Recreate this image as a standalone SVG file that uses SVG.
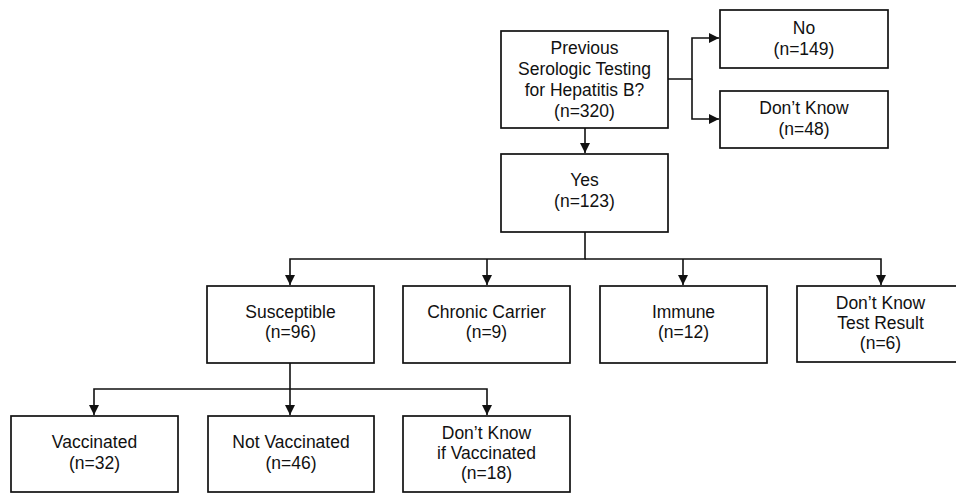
<svg xmlns="http://www.w3.org/2000/svg" width="956" height="493" viewBox="0 0 956 493">
<defs>
<marker id="ah" viewBox="0 0 10 10" refX="10" refY="5" markerWidth="11" markerHeight="10" markerUnits="userSpaceOnUse" orient="auto">
<path d="M0,0 L10,5 L0,10 Z" fill="#111"/>
</marker>
</defs>
<style>
rect{fill:#fff;stroke:#111;stroke-width:1.7}
text{font-family:"Liberation Sans",Arial,sans-serif;font-size:17.5px;fill:#111;text-anchor:middle}
.c{fill:none;stroke:#111;stroke-width:1.6}
</style>
<rect x="0" y="0" width="956" height="493" style="stroke:none"/>
<g id="connectors">
<path class="c" d="M668,79 H692 V38 H719" marker-end="url(#ah)"/>
<path class="c" d="M692,79 V119 H719" marker-end="url(#ah)"/>
<path class="c" d="M585,128 V153" marker-end="url(#ah)"/>
<path class="c" d="M585,232 V259 H290 V285" marker-end="url(#ah)"/>
<path class="c" d="M585,259 H881 V285" marker-end="url(#ah)"/>
<path class="c" d="M487,259 V285" marker-end="url(#ah)"/>
<path class="c" d="M683,259 V285" marker-end="url(#ah)"/>
<path class="c" d="M290,363 V415" marker-end="url(#ah)"/>
<path class="c" d="M290,389 H94 V415" marker-end="url(#ah)"/>
<path class="c" d="M290,389 H487 V415" marker-end="url(#ah)"/>
</g>
<g id="n-previous"><rect x="501" y="31" width="167" height="97"/>
<text x="584.5" y="54">Previous</text><text x="584.5" y="75">Serologic Testing</text><text x="584.5" y="96">for Hepatitis B?</text><text x="584.5" y="117">(n=320)</text></g>
<g id="n-no"><rect x="720" y="10" width="168" height="58"/>
<text x="804" y="34">No</text><text x="804" y="55">(n=149)</text></g>
<g id="n-dontknow"><rect x="720" y="91" width="168" height="57"/>
<text x="804" y="114">Don’t Know</text><text x="804" y="135">(n=48)</text></g>
<g id="n-yes"><rect x="501" y="154" width="167" height="78"/>
<text x="584.5" y="186">Yes</text><text x="584.5" y="207">(n=123)</text></g>
<g id="n-susceptible"><rect x="207" y="286" width="167" height="77"/>
<text x="290.5" y="318">Susceptible</text><text x="290.5" y="338">(n=96)</text></g>
<g id="n-chronic"><rect x="403" y="286" width="167" height="77"/>
<text x="486.5" y="318">Chronic Carrier</text><text x="486.5" y="338">(n=9)</text></g>
<g id="n-immune"><rect x="600" y="286" width="167" height="77"/>
<text x="683.5" y="318">Immune</text><text x="683.5" y="338">(n=12)</text></g>
<g id="n-dktest"><rect x="797" y="286" width="168" height="76"/>
<text x="880.5" y="309">Don’t Know</text><text x="880.5" y="329">Test Result</text><text x="880.5" y="349">(n=6)</text></g>
<g id="n-vaccinated"><rect x="11" y="416" width="167" height="76"/>
<text x="94.5" y="448">Vaccinated</text><text x="94.5" y="469">(n=32)</text></g>
<g id="n-notvaccinated"><rect x="208" y="416" width="166" height="76"/>
<text x="291" y="448">Not Vaccinated</text><text x="291" y="469">(n=46)</text></g>
<g id="n-dkvacc"><rect x="403" y="416" width="167" height="76"/>
<text x="486.5" y="439">Don’t Know</text><text x="486.5" y="459">if Vaccinated</text><text x="486.5" y="479">(n=18)</text></g>
</svg>
